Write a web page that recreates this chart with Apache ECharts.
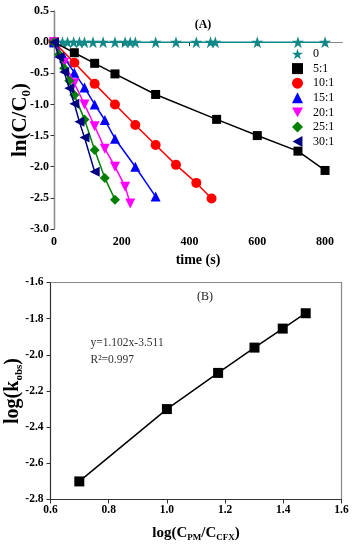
<!DOCTYPE html>
<html><head><meta charset="utf-8">
<script src="https://cdn.jsdelivr.net/npm/echarts@6/dist/echarts.min.js"></script>
<style>html,body{margin:0;padding:0;background:#fff}#c{width:353px;height:550px}</style>
</head><body><div id="c"></div>
<script>
// ---------- Panel A data: ln(C/C0) vs time (s) ----------
const seriesNamesA = ['0', '5:1', '10:1', '15:1', '20:1', '25:1', '30:1'];
const t_0   = [0, 5, 25, 40, 58, 75, 90, 115, 145, 180, 210, 225, 240, 300, 360, 420, 462, 476, 600, 720, 800];
const y_0   = [0, 0, 0, 0, 0, 0, 0, 0, 0, 0, 0, 0, 0, 0, 0, 0, 0, 0, 0, 0, 0];
const t_5   = [0, 60, 120, 180, 300, 480, 600, 720, 800];
const y_5   = [0, -0.17, -0.34, -0.51, -0.84, -1.24, -1.50, -1.75, -2.06];
const t_10  = [0, 60, 120, 180, 240, 300, 360, 420, 465];
const y_10  = [0, -0.33, -0.67, -1.00, -1.33, -1.65, -1.97, -2.26, -2.51];
const t_15  = [0, 30, 60, 90, 120, 150, 180, 240, 300];
const y_15  = [0, -0.25, -0.49, -0.73, -1.00, -1.25, -1.55, -2.00, -2.48];
const t_20  = [0, 30, 60, 90, 120, 150, 180, 210, 225];
const y_20  = [0, -0.33, -0.66, -1.00, -1.35, -1.71, -2.00, -2.32, -2.59];
const t_25  = [0, 15, 30, 45, 60, 90, 120, 150, 180];
const y_25  = [0, -0.20, -0.42, -0.62, -0.85, -1.24, -1.73, -2.18, -2.53];
const t_30  = [0, 15, 30, 45, 60, 75, 90, 120];
const y_30  = [0, -0.24, -0.48, -0.74, -0.99, -1.28, -1.53, -2.08];
const xTicksA = [0, 200, 400, 600, 800];
const yTicksA = [-3.0, -2.5, -2.0, -1.5, -1.0, -0.5, 0.0, 0.5];

// ---------- Panel B data: log(kobs) vs log(CPM/CCFX) ----------
const xB = [0.699, 1.000, 1.176, 1.301, 1.398, 1.477];
const yB = [-2.70, -2.30, -2.10, -1.96, -1.855, -1.77];
const xTicksB = [0.6, 0.8, 1.0, 1.2, 1.4, 1.6];
const yTicksB = [-2.8, -2.6, -2.4, -2.2, -2.0, -1.8, -1.6];

const FONT = '"Liberation Serif","Times New Roman",serif';
const STAR = 'path://M50,0L61.2,34.5L97.6,34.5L68.2,55.9L79.4,90.5L50,69.1L20.6,90.5L31.8,55.9L2.4,34.5L38.8,34.5Z';
const DOWN = 'path://M0,0L10,0L5,9Z';
const LEFT = 'path://M0,5L9,0L9,10Z';
const colorsA = ['#118888', '#000000', '#ff0000', '#0000ff', '#ff00ff', '#008000', '#000080'];
const symbolsA = [STAR, 'rect', 'circle', 'triangle', DOWN, 'diamond', LEFT];
const sizesA = [12, 9, 10, 10, 10, 10, 10];
const tA = [t_0, t_5, t_10, t_15, t_20, t_25, t_30];
const yA = [y_0, y_5, y_10, y_15, y_20, y_25, y_30];

const zip = (a, b) => a.map((v, i) => [v, b[i]]);
const step = arr => +(arr[1] - arr[0]).toFixed(6);

const dark = '#333', light = '#888';
const tickLblA = {color: '#000', fontFamily: FONT, fontWeight: 'bold', fontSize: 12};
const tickLblB = {color: '#000', fontFamily: FONT, fontWeight: 'bold', fontSize: 11.5};

const seriesA = seriesNamesA.map((n, i) => ({
  name: n, type: 'line', xAxisIndex: 0, yAxisIndex: 0,
  data: zip(tA[i], yA[i]),
  symbol: symbolsA[i], symbolSize: sizesA[i],
  lineStyle: {color: colorsA[i], width: 1.5},
  itemStyle: {color: colorsA[i]},
  z: 2 + i
}));

const option = {
  animation: false,
  backgroundColor: '#fff',
  grid: [
    {left: 54, top: 11, width: 288, height: 218, outerBoundsMode: 'none'},
    {left: 50.5, top: 282.5, width: 291, height: 217, outerBoundsMode: 'none'}
  ],
  legend: {
    data: seriesNamesA.map((n, i) => ({name: n, icon: symbolsA[i]})),
    orient: 'vertical', left: 292, top: 48, padding: 0,
    itemWidth: 11, itemHeight: 11, itemGap: 2.6,
    selectedMode: false,
    textStyle: {fontFamily: FONT, fontSize: 12, color: '#000', padding: [0, 0, 0, 5]}
  },
  xAxis: [
    {gridIndex: 0, type: 'value', position: 'bottom',
     min: xTicksA[0], max: 850, interval: step(xTicksA),
     axisLine: {lineStyle: {color: dark, width: 1.2}},
     axisTick: {inside: false, length: 4, lineStyle: {color: dark}},
     axisLabel: {...tickLblA, margin: 7, showMaxLabel: false,
       formatter: v => xTicksA.includes(v) ? String(v) : ''},
     splitLine: {show: false},
     name: 'time (s)', nameLocation: 'middle', nameGap: 24, nameMoveOverlap: false,
     nameTextStyle: {fontFamily: FONT, fontWeight: 'bold', fontSize: 14, color: '#000'}},
    {gridIndex: 0, type: 'value', position: 'top', min: 0, max: 850,
     axisLine: {lineStyle: {color: light, width: 1.2}}, axisTick: {show: false},
     axisLabel: {show: false}, splitLine: {show: false}},
    {gridIndex: 1, type: 'value', position: 'bottom',
     min: xTicksB[0], max: xTicksB[xTicksB.length - 1], interval: step(xTicksB),
     axisLine: {lineStyle: {color: dark, width: 1.2}},
     axisTick: {inside: false, length: 4, lineStyle: {color: dark}},
     axisLabel: {...tickLblB, margin: 5, formatter: v => v.toFixed(1)},
     splitLine: {show: false},
     name: '{a|log(C}{s|PM}{a|/C}{s|CFX}{a|)}', nameLocation: 'middle', nameGap: 24, nameMoveOverlap: false,
     nameTextStyle: {rich: {
       a: {fontFamily: FONT, fontWeight: 'bold', fontSize: 15, color: '#000', lineHeight: 19},
       s: {fontFamily: FONT, fontWeight: 'bold', fontSize: 9, color: '#000', verticalAlign: 'bottom'}}}},
    {gridIndex: 1, type: 'value', position: 'top',
     min: xTicksB[0], max: xTicksB[xTicksB.length - 1],
     axisLine: {lineStyle: {color: light, width: 1.2}}, axisTick: {show: false},
     axisLabel: {show: false}, splitLine: {show: false}}
  ],
  yAxis: [
    {gridIndex: 0, type: 'value', position: 'left',
     min: yTicksA[0], max: yTicksA[yTicksA.length - 1], interval: step(yTicksA),
     axisLine: {lineStyle: {color: dark, width: 1.2}},
     axisTick: {inside: false, length: 3.5, lineStyle: {color: dark}},
     axisLabel: {...tickLblA, margin: 5, formatter: v => v.toFixed(1)},
     splitLine: {show: false},
     name: '{a|ln(C/C}{s|0}{a|)}', nameLocation: 'middle', nameGap: 21, nameMoveOverlap: false,
     nameTextStyle: {rich: {
       a: {fontFamily: FONT, fontWeight: 'bold', fontSize: 21, color: '#000', lineHeight: 24},
       s: {fontFamily: FONT, fontWeight: 'bold', fontSize: 13, color: '#000', verticalAlign: 'bottom'}}}},
    {gridIndex: 0, type: 'value', position: 'right',
     min: yTicksA[0], max: yTicksA[yTicksA.length - 1],
     axisLine: {lineStyle: {color: light, width: 1.2}}, axisTick: {show: false},
     axisLabel: {show: false}, splitLine: {show: false}},
    {gridIndex: 1, type: 'value', position: 'left',
     min: yTicksB[0], max: yTicksB[yTicksB.length - 1], interval: step(yTicksB),
     axisLine: {lineStyle: {color: dark, width: 1.2}},
     axisTick: {inside: false, length: 4, lineStyle: {color: dark}},
     axisLabel: {...tickLblB, margin: 7, formatter: v => v.toFixed(1)},
     splitLine: {show: false},
     name: '{a|log(k}{s|obs}{a|)}', nameLocation: 'middle', nameGap: 26, nameMoveOverlap: false,
     nameTextStyle: {rich: {
       a: {fontFamily: FONT, fontWeight: 'bold', fontSize: 20, color: '#000', lineHeight: 23},
       s: {fontFamily: FONT, fontWeight: 'bold', fontSize: 11, color: '#000', verticalAlign: 'bottom'}}}},
    {gridIndex: 1, type: 'value', position: 'right',
     min: yTicksB[0], max: yTicksB[yTicksB.length - 1],
     axisLine: {lineStyle: {color: light, width: 1.2}}, axisTick: {show: false},
     axisLabel: {show: false}, splitLine: {show: false}}
  ],
  series: [
    ...seriesA,
    {name: 'kobs', type: 'line', xAxisIndex: 2, yAxisIndex: 2,
     data: zip(xB, yB), symbol: 'rect', symbolSize: 10,
     lineStyle: {color: '#000', width: 1.5}, itemStyle: {color: '#000'}}
  ],
  graphic: [
    {type: 'text', x: 203, y: 25, style: {text: '(A)', font: 'bold 12px ' + FONT, fill: '#000',
      align: 'center', verticalAlign: 'middle', textAlign: 'center', textVerticalAlign: 'middle'}},
    {type: 'text', x: 205, y: 297, style: {text: '(B)', font: '12px ' + FONT, fill: '#222',
      align: 'center', verticalAlign: 'middle', textAlign: 'center', textVerticalAlign: 'middle'}},
    {type: 'text', x: 90.5, y: 343, style: {text: 'y=1.102x-3.511', font: '11.5px ' + FONT, fill: '#333',
      align: 'left', verticalAlign: 'middle', textAlign: 'left', textVerticalAlign: 'middle'}},
    {type: 'text', x: 90.5, y: 360, style: {text: 'R\u00b2=0.997', font: '11.5px ' + FONT, fill: '#333',
      align: 'left', verticalAlign: 'middle', textAlign: 'left', textVerticalAlign: 'middle'}}
  ]
};
const chart = echarts.init(document.getElementById('c'), null, {renderer: 'canvas'});
chart.setOption(option);
</script>
</body></html>
